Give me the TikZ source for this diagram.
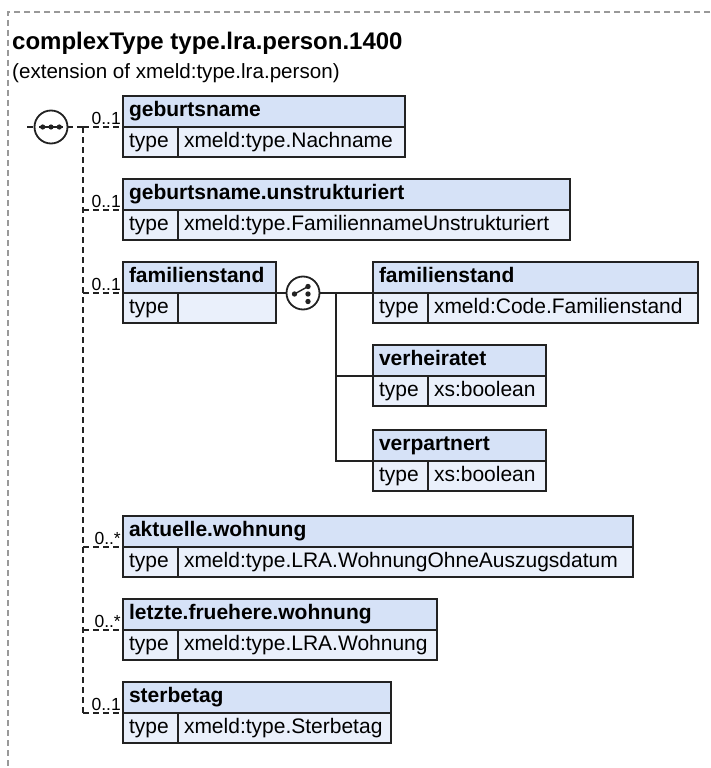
\documentclass[tikz,border=0pt]{standalone}
\usepackage{fontspec}
\setmainfont{Liberation Sans}
\definecolor{hdrc}{HTML}{D6E2F7}
\definecolor{rowc}{HTML}{EAF0FB}
\definecolor{edge}{HTML}{222222}
\definecolor{frame}{HTML}{999999}
\newcommand\xbox[6]{%
  \pgfmathsetmacro\bw{#4-12}%
  \node[hdr, text width=\bw pt] (#1) at (#2,#3) {#5};
  \node[cell, text width=43pt] (#1-t) at (#2,#3+31) {type};
  \pgfmathsetmacro\vw{#4-55-12}%
  \node[cell, text width=\vw pt] (#1-v) at (#2+55,#3+31) {#6};
}
\begin{document}
\begin{tikzpicture}[x=1pt,y=-1pt,
  boxline/.style={draw=edge, line width=1.6pt, outer sep=0pt},
  hdr/.style={boxline, fill=hdrc, anchor=north west, minimum height=31pt, text height=15pt, text depth=4.5pt, inner xsep=6pt, inner ysep=0pt, font=\fontsize{21}{24}\selectfont\bfseries, align=left},
  cell/.style={boxline, fill=rowc, anchor=north west, minimum height=30pt, text height=15pt, text depth=4.5pt, inner xsep=6pt, inner ysep=0pt, font=\fontsize{21}{24}\selectfont, align=left},
  mult/.style={anchor=base east, inner sep=0pt, font=\fontsize{17.5}{20}\selectfont},
  opt/.style={draw=edge, line width=1.5pt, dash pattern=on 6pt off 4pt},
  req/.style={draw=edge, line width=1.6pt},
  icon/.style={circle, draw=edge, line width=1.8pt, fill=white, minimum size=33pt, inner sep=0pt, outer sep=0pt},
  frameline/.style={draw=frame, line width=1.2pt, dash pattern=on 6pt off 4pt}]
\useasboundingbox (0,0) rectangle (710,768);
\draw[frameline] (710,12) -- (8,12) -- (8,768);
\node[anchor=base west, inner sep=0pt, font=\fontsize{24}{28}\selectfont\bfseries] (title) at (12,50) {complexType type.lra.person.1400};
\node[anchor=base west, inner sep=0pt, font=\fontsize{20.6}{24}\selectfont] (sub) at (12,78) {(extension of xmeld:type.lra.person)};

\xbox{g1}{123}{96}{282}{geburtsname}{xmeld:type.Nachname}
\xbox{g2}{123}{179}{447}{geburtsname.unstrukturiert}{xmeld:type.FamiliennameUnstrukturiert}
\xbox{g3}{123}{262}{153}{familienstand}{}
\xbox{c1}{373}{262}{325}{familienstand}{xmeld:Code.Familienstand}
\xbox{c2}{373}{345}{173}{verheiratet}{xs:boolean}
\xbox{c3}{373}{430}{173}{verpartnert}{xs:boolean}
\xbox{g4}{123}{516}{510}{aktuelle.wohnung}{xmeld:type.LRA.WohnungOhneAuszugsdatum}
\xbox{g5}{123}{599}{314}{letzte.fruehere.wohnung}{xmeld:type.LRA.Wohnung}
\xbox{g6}{123}{682}{268}{sterbetag}{xmeld:type.Sterbetag}

% sequence compositor
\coordinate (lstub) at (27,127);
\coordinate (trunk) at (83,127);
\draw[opt] (lstub) -- (trunk);
\node[icon] (seq) at (51,127) {};
\draw[edge, line width=1.4pt] (39,127) -- (63,127);
\foreach \dx in {42.7,51,59.3} \fill[edge] (\dx,127) circle (2.6);
\draw[opt] (trunk) -- (trunk |- g6.south west);
\foreach \b in {g1,g2,g3,g4,g5,g6} \draw[opt] (trunk |- \b.south west) -- (\b.south west);
\foreach \b/\m in {g1/{0..1},g2/{0..1},g3/{0..1},g4/{0..*},g5/{0..*},g6/{0..1}}
  \node[mult] at ([xshift=-2pt,yshift=3pt]\b.south west) {\m};

% choice compositor
\coordinate (ctr) at (336,293);
\node[icon] (choice) at (303,293) {};
\draw[req] (g3.south east) -- (choice.west);
\draw[req] (choice.east) -- (ctr) -- (ctr |- c3.south west) -- (c3.south west);
\draw[req] (ctr) -- (c1.south west);
\draw[req] (ctr |- c2.south west) -- (c2.south west);
\draw[edge, line width=1.4pt] (294.5,294) -- (308,286.5);
\foreach \p in {(294.5,294),(308,286.5),(308,294),(308,301.5)} \fill[edge] \p circle (2.7);
\end{tikzpicture}
\end{document}
